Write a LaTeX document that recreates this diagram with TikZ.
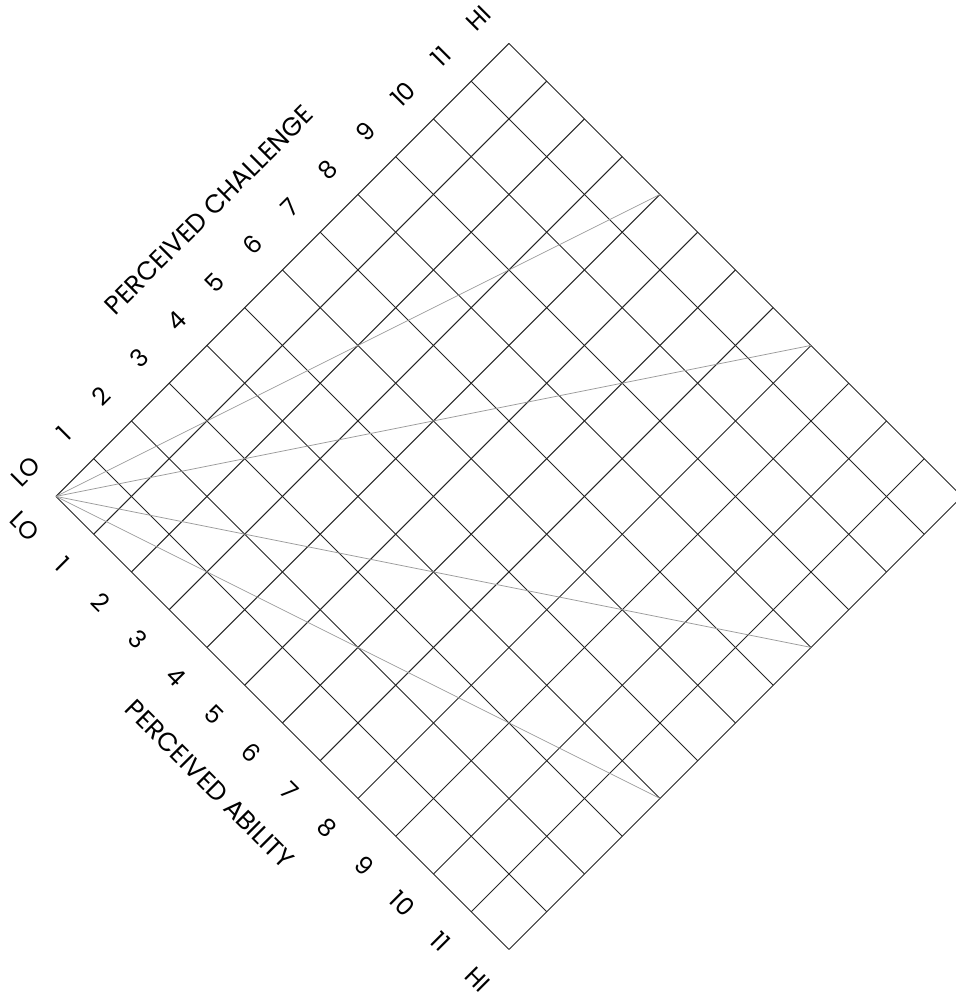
\documentclass[tikz,border=0pt]{standalone}
\usepackage{fontspec}
\setmainfont{Poppins}
\usetikzlibrary{calc}

\begin{document}
\begin{tikzpicture}[
  gridline/.style={draw=black!85, line width=0.7pt},
  ray/.style={draw=black!40, line width=0.55pt},
  tick/.style={font=\fontsize{18.5}{18.5}\selectfont, inner sep=0pt},
  axistitle/.style={font=\fontsize{19.5}{19.5}\selectfont, inner sep=0pt},
]
\useasboundingbox (-1.483,-13.34) rectangle (23.84,13.15);

%% Edge points (challenge up-left edge, ability down-left edge)
\foreach \k in {0,...,12} {
  \coordinate (ch\k) at (\k,\k);
  \coordinate (ab\k) at (\k,-\k);
}

%% Grid
\foreach \k in {0,...,12} {
  \draw[gridline] (ch\k) -- ++(12,-12);
  \draw[gridline] (ab\k) -- ++(12,12);
}

%% Rays from the LO corner
\coordinate (r1) at (16,8);
\coordinate (r2) at (20,4);
\coordinate (r3) at (20,-4);
\coordinate (r4) at (16,-8);
\foreach \r in {r1,r2,r3,r4}
  \draw[ray] (ch0) -- (\r);

%% Scale labels
\foreach \k/\t in {0/LO,1/1,2/2,3/3,4/4,5/5,6/6,7/7,8/8,9/9,10/10,11/11,12/HI} {
  \node[tick, rotate=45] (chl\k) at ($(ch\k)+(-0.8,0.66)$) {\t};
  \node[tick, rotate=-45] (abl\k) at ($(ab\k)+(-0.82,-0.79)$) {\t};
}

%% Axis titles
\node[axistitle, rotate=45] (chtitle) at (4.05,7.59) {PERCEIVED CHALLENGE};
\node[axistitle, rotate=-45] (abtitle) at (4.08,-7.62) {PERCEIVED ABILITY};
\end{tikzpicture}
\end{document}
